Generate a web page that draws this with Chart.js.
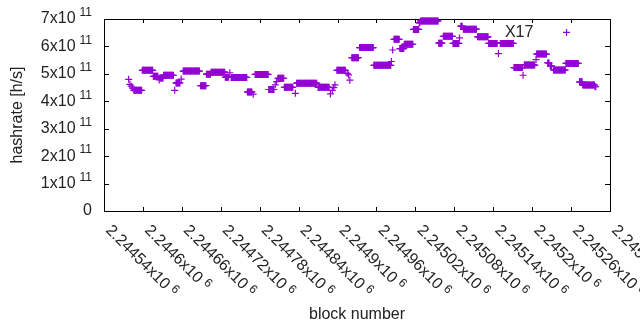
<!DOCTYPE html>
<html>
<head>
<meta charset="utf-8">
<script src="https://cdn.jsdelivr.net/npm/chart.js@4.4.1/dist/chart.umd.min.js"></script>
<style>
    html, body { margin: 0; padding: 0; background: #ffffff; }
    #hashrateChart { display: block; }
</style>
</head>
<body>
<canvas id="hashrateChart" width="640" height="330"></canvas>
<script>
// Blocks that share the same hashrate estimate
const runFrom = [
    2244578, 2244580, 2244582, 2244584, 2244586, 2244599, 2244616, 2244625, 2244626, 2244632,
    2244649, 2244651, 2244659, 2244662, 2244689, 2244698, 2244705, 2244727, 2244734, 2244736,
    2244761, 2244770, 2244773, 2244794, 2244804, 2244806, 2244808, 2244818, 2244835, 2244837,
    2244870, 2244889, 2244892, 2244894, 2244896, 2244899, 2244915, 2244917, 2244919, 2244922,
    2244934, 2244956, 2244983, 2244985, 2244987, 2244996, 2245003, 2245017, 2245026, 2245027,
    2245028, 2245056, 2245063, 2245078, 2245088, 2245090, 2245094, 2245116, 2245133, 2245148,
    2245151, 2245172, 2245186, 2245188, 2245206, 2245207, 2245224, 2245228, 2245233, 2245252,
    2245253, 2245273, 2245278, 2245297
];
const runTo = [
    2244578, 2244580, 2244582, 2244584, 2244598, 2244615, 2244623, 2244625, 2244631, 2244647,
    2244649, 2244657, 2244659, 2244687, 2244697, 2244704, 2244726, 2244732, 2244734, 2244760,
    2244768, 2244770, 2244793, 2244802, 2244804, 2244806, 2244817, 2244831, 2244835, 2244868,
    2244887, 2244889, 2244892, 2244894, 2244896, 2244912, 2244915, 2244917, 2244919, 2244932,
    2244955, 2244982, 2244983, 2244985, 2244995, 2245002, 2245016, 2245025, 2245026, 2245027,
    2245055, 2245061, 2245077, 2245087, 2245088, 2245092, 2245114, 2245132, 2245146, 2245148,
    2245171, 2245185, 2245186, 2245204, 2245206, 2245222, 2245226, 2245230, 2245251, 2245271,
    2245253, 2245277, 2245296, 2245298
];
const runHashrate = [
    4.80e11, 4.62e11, 4.55e11, 4.48e11, 4.40e11, 5.13e11, 4.91e11, 4.78e11, 4.85e11, 4.95e11,
    4.40e11, 4.67e11, 4.81e11, 5.10e11, 4.57e11, 4.99e11, 5.06e11, 4.88e11, 5.04e11, 4.87e11,
    4.34e11, 4.26e11, 4.98e11, 4.43e11, 4.60e11, 4.72e11, 4.84e11, 4.51e11, 4.29e11, 4.66e11,
    4.51e11, 4.27e11, 4.40e11, 4.50e11, 4.60e11, 5.13e11, 5.02e11, 4.96e11, 4.77e11, 5.59e11,
    5.96e11, 5.31e11, 5.45e11, 5.87e11, 6.26e11, 5.92e11, 6.08e11, 6.62e11, 6.85e11, 6.88e11,
    6.93e11, 6.12e11, 6.37e11, 6.11e11, 6.31e11, 6.74e11, 6.63e11, 6.35e11, 6.11e11, 5.74e11,
    6.11e11, 5.23e11, 4.95e11, 5.32e11, 5.52e11, 5.72e11, 5.40e11, 5.29e11, 5.14e11, 5.38e11,
    6.51e11, 4.71e11, 4.59e11, 4.53e11
];

// Axis ticks
const xTickValues = [2244540, 2244600, 2244660, 2244720, 2244780, 2244840, 2244900,
    2244960, 2245020, 2245080, 2245140, 2245200, 2245260, 2245320];
const xTickLabels = ['2.24454', '2.2446', '2.24466', '2.24472', '2.24478', '2.24484', '2.2449',
    '2.24496', '2.24502', '2.24508', '2.24514', '2.2452', '2.24526', '2.24532'];
const yTickValues = [0, 1e11, 2e11, 3e11, 4e11, 5e11, 6e11, 7e11];
const yTickLabels = ['0', '1x10', '2x10', '3x10', '4x10', '5x10', '6x10', '7x10'];

const annotationText = 'X17';
const annotationAt = { block: 2245158, hashrate: 6.34e11 };

const PURPLE = '#9400d3';
const FONT = '"Liberation Sans", Arial, sans-serif';

// one point per block
const points = [];
runFrom.forEach((from, i) => {
    for (let b = from; b <= runTo[i]; b++) {
        points.push({ x: b, y: runHashrate[i] });
    }
});

// gnuplot style frame: border, inward ticks on all sides, superscript labels
const gnuplotFrame = {
    id: 'gnuplotFrame',
    beforeDatasetsDraw(chart) {
        const ctx = chart.ctx;
        const a = chart.chartArea;
        const xs = chart.scales.x, ys = chart.scales.y;
        ctx.save();
        ctx.strokeStyle = '#000000';
        ctx.lineWidth = 1;
        ctx.beginPath();
        yTickValues.forEach(v => {
            const py = Math.round(ys.getPixelForValue(v)) + 0.5;
            ctx.moveTo(a.left, py); ctx.lineTo(a.left + 5, py);
            ctx.moveTo(a.right, py); ctx.lineTo(a.right - 5, py);
        });
        xTickValues.forEach(v => {
            const px = Math.round(xs.getPixelForValue(v)) + 0.5;
            ctx.moveTo(px, a.bottom); ctx.lineTo(px, a.bottom - 4);
            ctx.moveTo(px, a.top); ctx.lineTo(px, a.top + 4);
        });
        ctx.stroke();
        ctx.strokeRect(Math.round(a.left) + 0.5, Math.round(a.top) + 0.5,
            Math.round(a.right - a.left), Math.round(a.bottom - a.top));
        ctx.restore();
    },
    afterDraw(chart) {
        const ctx = chart.ctx;
        const a = chart.chartArea;
        const xs = chart.scales.x, ys = chart.scales.y;
        ctx.save();
        ctx.fillStyle = '#222222';

        // y tick labels
        const rightEdge = a.left - 12;
        yTickValues.forEach((v, i) => {
            const py = ys.getPixelForValue(v);
            ctx.textBaseline = 'middle';
            if (i === 0) {
                ctx.font = '16px ' + FONT;
                ctx.textAlign = 'right';
                ctx.fillText(yTickLabels[i], rightEdge, py);
                return;
            }
            ctx.font = '12px ' + FONT;
            const supW = ctx.measureText('11').width;
            ctx.textAlign = 'left';
            ctx.fillText('11', rightEdge - supW, py - 6);
            ctx.font = '16px ' + FONT;
            ctx.textAlign = 'right';
            ctx.fillText(yTickLabels[i], rightEdge - supW - 4, py);
        });

        // x tick labels, rotated down to the right
        xTickValues.forEach((v, i) => {
            const px = xs.getPixelForValue(v);
            ctx.save();
            ctx.translate(px + 1, a.bottom + 20);
            ctx.rotate(Math.PI / 4);
            ctx.textAlign = 'left';
            ctx.textBaseline = 'alphabetic';
            ctx.font = '16px ' + FONT;
            const main = xTickLabels[i] + 'x10';
            ctx.fillText(main, 0, 0);
            const w = ctx.measureText(main).width;
            ctx.font = '12px ' + FONT;
            ctx.fillText('6', w + 4, -5);
            ctx.restore();
        });

        // axis titles
        ctx.font = '16px ' + FONT;
        ctx.textAlign = 'center';
        ctx.textBaseline = 'middle';
        ctx.fillText('block number', (a.left + a.right) / 2, 315);
        ctx.save();
        ctx.translate(18, (a.top + a.bottom) / 2);
        ctx.rotate(-Math.PI / 2);
        ctx.fillText('hashrate [h/s]', 0, 0);
        ctx.restore();

        // annotation inside the plot
        ctx.textAlign = 'left';
        ctx.textBaseline = 'alphabetic';
        ctx.fillText(annotationText, xs.getPixelForValue(annotationAt.block),
            ys.getPixelForValue(annotationAt.hashrate));
        ctx.restore();
    }
};

new Chart(document.getElementById('hashrateChart').getContext('2d'), {
    type: 'scatter',
    data: {
        datasets: [{
            label: 'hashrate',
            data: points,
            pointStyle: 'cross',
            pointRadius: 3.5,
            pointBorderWidth: 1.2,
            pointBorderColor: PURPLE,
            pointBackgroundColor: PURPLE,
            clip: false
        }]
    },
    options: {
        responsive: false,
        animation: false,
        devicePixelRatio: 1,
        events: [],
        layout: {
            padding: { left: 104, top: 19, right: 30, bottom: 119 }
        },
        plugins: {
            legend: { display: false },
            tooltip: { enabled: false }
        },
        scales: {
            x: { type: 'linear', min: 2244540, max: 2245320, display: false },
            y: { type: 'linear', min: 0, max: 7e11, display: false }
        }
    },
    plugins: [gnuplotFrame]
});
</script>
</body>
</html>
